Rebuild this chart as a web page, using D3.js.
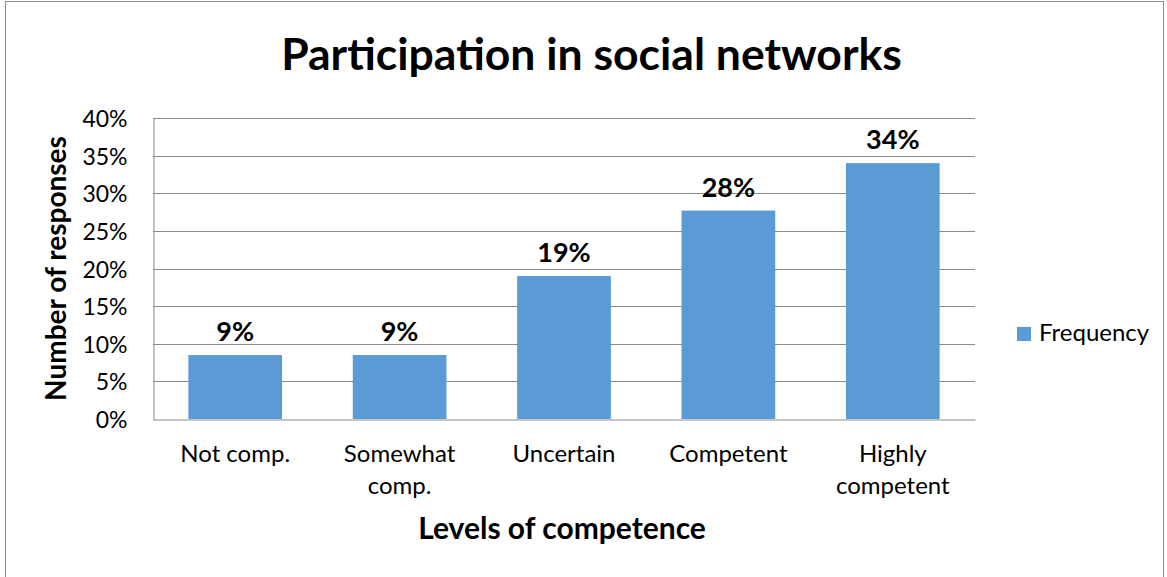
<!DOCTYPE html>
<html>
<head>
<meta charset="utf-8">
<script src="https://cdn.jsdelivr.net/npm/d3@7"></script>
<style>
  html, body { margin: 0; padding: 0; background: #fff; }
  svg { display: block; }
  text { font-family: Lato, "Open Sans", sans-serif; fill: #000; }
</style>
</head>
<body>
<svg id="chart" width="1167" height="577"></svg>
<script>
// ---- data ----
const categories = [["Not comp."], ["Somewhat", "comp."], ["Uncertain"], ["Competent"], ["Highly", "competent"]];
const frequency = [0.085, 0.085, 0.19, 0.277, 0.34];
const dataLabels = ["9%", "9%", "19%", "28%", "34%"];
const yTicks = [0, 0.05, 0.10, 0.15, 0.20, 0.25, 0.30, 0.35, 0.40];
const seriesName = "Frequency";
const chartTitle = "Participation in social networks";
const xTitle = "Levels of competence";
const yTitle = "Number of responses";

const W = 1167, H = 577;
const margin = { left: 153, right: 192, top: 118, bottom: 158 };
const svg = d3.select("#chart");

// chart frame
svg.append("rect").attr("x", 5.5).attr("y", 1.5).attr("width", 1158).attr("height", 590)
  .attr("fill", "#fff").attr("stroke", "#8c8c8c").attr("stroke-width", 1);

const x = d3.scaleBand().domain(d3.range(categories.length))
  .range([margin.left, W - margin.right]).paddingInner(0.43).paddingOuter(0.215);
const y = d3.scaleLinear().domain([0, 0.40]).range([H - margin.bottom, margin.top]);

// gridlines
svg.append("g").selectAll("line").data(yTicks.filter(d => d > 0)).join("line")
  .attr("x1", margin.left).attr("x2", W - margin.right)
  .attr("y1", d => Math.round(y(d)) + 0.5).attr("y2", d => Math.round(y(d)) + 0.5)
  .attr("stroke", "#8a8a8a").attr("stroke-width", 1);

// y axis
const yAxis = d3.axisLeft(y).tickValues(yTicks).tickFormat(d3.format(".0%")).tickSize(0).tickPadding(26);
const gy = svg.append("g").attr("transform", `translate(${margin.left + 0.5},0.5)`).call(yAxis);
gy.select(".domain").attr("stroke", "#8a8a8a");
gy.selectAll("text").attr("font-size", 23).attr("font-family", "Lato").attr("fill", "#000").attr("dy", "0.35em");

// bars
svg.append("g").selectAll("rect").data(frequency).join("rect")
  .attr("x", (d, i) => x(i)).attr("width", x.bandwidth())
  .attr("y", d => y(d)).attr("height", d => y(0) - y(d))
  .attr("fill", "#5B9BD5");

// x axis baseline
const xAxis = d3.axisBottom(x).tickSize(0).tickFormat(() => "");
const gx = svg.append("g").attr("transform", `translate(0,${Math.round(y(0)) + 0.5})`).call(xAxis);
gx.select(".domain").attr("stroke", "#8a8a8a");

// category labels
const catG = svg.append("g");
categories.forEach((lines, i) => {
  const t = catG.append("text").attr("text-anchor", "middle").attr("font-size", 24)
    .attr("x", x(i) + x.bandwidth() / 2).attr("y", 462);
  lines.forEach((l, j) => t.append("tspan").attr("x", x(i) + x.bandwidth() / 2).attr("dy", j === 0 ? 0 : 32).text(l));
});

// data labels
svg.append("g").selectAll("text").data(frequency).join("text")
  .attr("x", (d, i) => x(i) + x.bandwidth() / 2).attr("y", d => y(d) - 14)
  .attr("text-anchor", "middle").attr("font-weight", "bold").attr("font-size", 27)
  .text((d, i) => dataLabels[i]);

// title
svg.append("text").attr("x", 591.5).attr("y", 70).attr("text-anchor", "middle")
  .attr("font-weight", "bold").attr("font-size", 44.5).text(chartTitle);

// x title
svg.append("text").attr("x", 562).attr("y", 539).attr("text-anchor", "middle")
  .attr("font-weight", "bold").attr("font-size", 30).text(xTitle);

// y title
svg.append("text").attr("transform", `translate(66,${(y(0) + y(0.40)) / 2}) rotate(-90)`)
  .attr("text-anchor", "middle").attr("font-weight", "bold").attr("font-size", 28).text(yTitle);

// legend
const lg = svg.append("g").attr("transform", "translate(1017,327)");
lg.append("rect").attr("width", 14).attr("height", 14).attr("fill", "#5B9BD5");
lg.append("text").attr("x", 22).attr("y", 14).attr("font-size", 24).text(seriesName);
</script>
</body>
</html>
